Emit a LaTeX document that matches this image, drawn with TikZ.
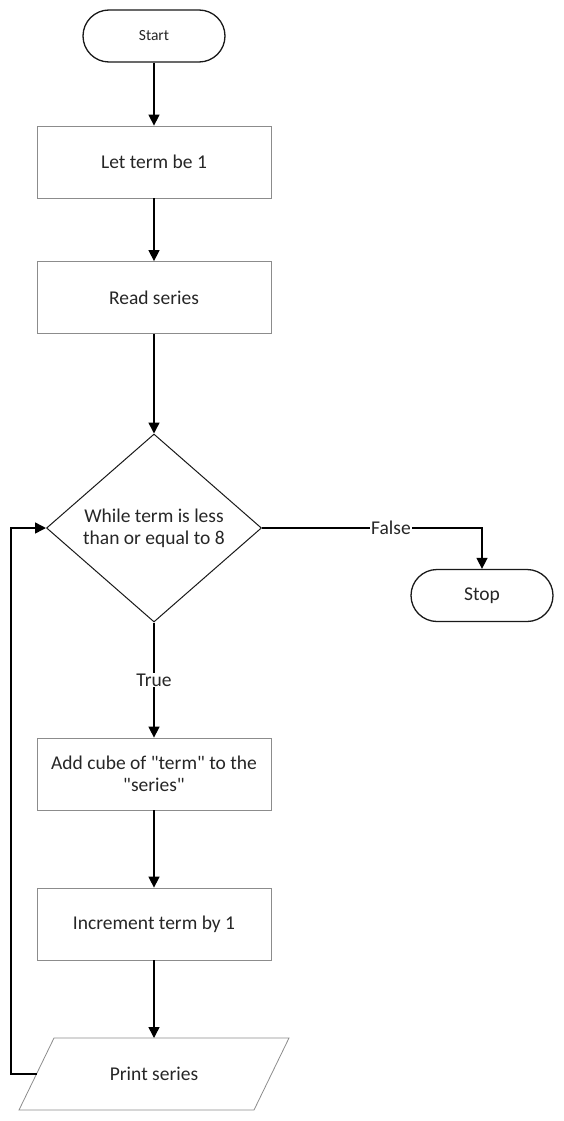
\documentclass[tikz,border=0pt]{standalone}
\usepackage{fontspec}
\setmainfont{Carlito}
\usetikzlibrary{shapes.geometric,arrows.meta}
\begin{document}
\begin{tikzpicture}[x=1pt,y=-1pt,
  txt/.style={font=\fontsize{19.5}{22}\selectfont, text=black!85},
  terminal/.style={txt,draw=black!90,line width=1.3pt,rounded corners=26pt,minimum width=142pt,minimum height=52pt,inner sep=0pt},
  procbox/.style={txt,draw=black!45,line width=0.8pt,minimum width=234pt,minimum height=72pt,inner sep=0pt,align=center},
  decision/.style={txt,draw=black!90,line width=1pt,diamond,minimum width=215pt,minimum height=188pt,inner sep=0pt,align=center},
  flow/.style={line width=1.5pt,draw=black,-{Triangle[length=11pt,width=11pt]}},
  lbl/.style={txt,fill=white,inner sep=1pt}
]
\useasboundingbox (0,0) rectangle (564,1121);
\node[terminal,font=\fontsize{15.5}{18}\selectfont] (start) at (154,36) {Start};
\node[procbox] (let) at (154,162) {Let term be 1};
\node[procbox] (read) at (154,297.5) {Read series};
\node[decision] (dec) at (154,528) {While term is less\\than or equal to 8};
\node[terminal] (stop) at (482,595.5) {Stop};
\node[procbox] (add) at (154,774) {Add cube of \textquotedbl term\textquotedbl{} to the\\\textquotedbl series\textquotedbl};
\node[procbox] (inc) at (154,924) {Increment term by 1};
% parallelogram
\coordinate (ptl) at (54,1038);
\coordinate (ptr) at (289,1038);
\coordinate (pbr) at (254,1110);
\coordinate (pbl) at (19,1110);
\draw[draw=black!45,line width=0.8pt] (ptl) -- (ptr) -- (pbr) -- (pbl) -- cycle;
\node[txt] (print) at (154,1074) {Print series};
\coordinate (ptop) at (154,1038);
\coordinate (pleft) at (36.5,1074);
\coordinate (c1) at (11,1074);
\coordinate (c2) at (11,528);
\coordinate (f1) at (482,528);

\draw[flow] (start) -- (let);
\draw[flow] (let) -- (read);
\draw[flow] (read) -- (dec.north);
\draw[flow] (dec.east) -- (f1) -- (stop.north);
\node[lbl] (false) at (391,528) {False};
\draw[flow] (dec.south) -- (add.north);
\node[lbl] (true) at (154,680) {True};
\draw[flow] (add) -- (inc);
\draw[flow] (inc) -- (ptop);
\draw[flow] (pleft) -- (c1) -- (c2) -- (dec.west);
\end{tikzpicture}
\end{document}
